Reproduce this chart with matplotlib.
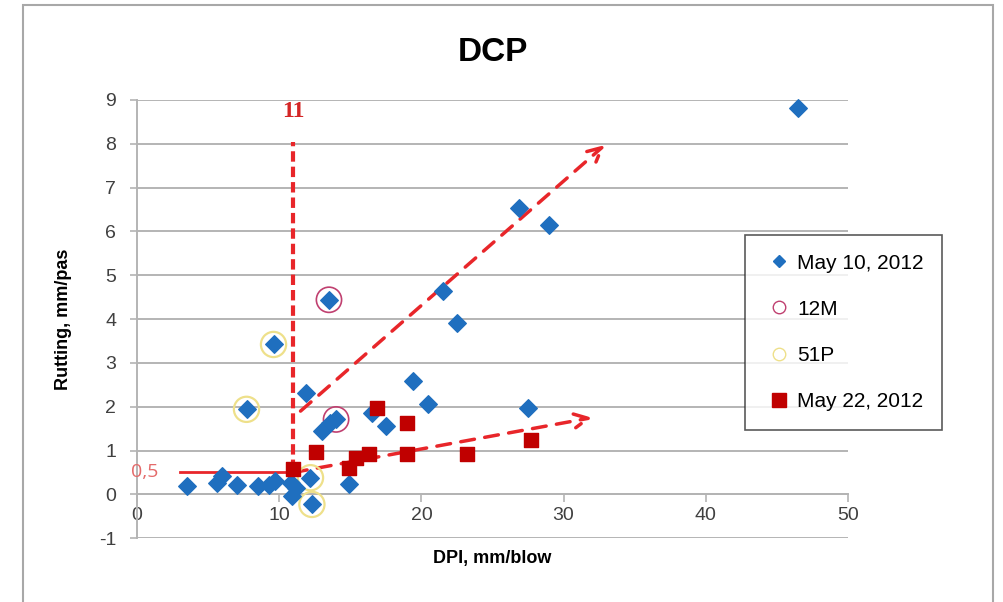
import matplotlib.pyplot as plt
import matplotlib.patches as mpatches
from matplotlib.lines import Line2D

# May 10, 2012 (DPI mm/blow, rutting mm/pas)
may10_x = [3.5, 5.6, 6.0, 7.0, 8.5, 9.3, 9.7, 10.8, 11.2, 10.9, 12.2, 12.3,
           9.6, 7.7, 13.5, 11.9, 13.0, 13.6, 14.0, 14.9, 16.5, 17.5, 19.4,
           20.5, 21.5, 22.5, 26.9, 29.0, 27.5, 46.5]
may10_y = [0.2, 0.25, 0.42, 0.22, 0.2, 0.22, 0.3, 0.25, 0.15, -0.04, 0.38, -0.23,
           3.42, 1.94, 4.44, 2.32, 1.44, 1.62, 1.71, 0.23, 1.85, 1.56, 2.58,
           2.07, 4.65, 3.9, 6.53, 6.15, 1.96, 8.81]

# May 22, 2012
may22_x = [11.0, 12.6, 14.9, 15.4, 16.3, 16.9, 19.0, 19.0, 23.2, 27.7]
may22_y = [0.59, 0.96, 0.61, 0.84, 0.91, 1.97, 1.63, 0.93, 0.93, 1.23]

# marked sections
m12_x = [13.5, 14.0]
m12_y = [4.44, 1.71]
p51_x = [9.6, 7.7, 12.3, 12.2]
p51_y = [3.42, 1.94, -0.23, 0.38]

blue = "#1F6FBF"
dred = "#C00000"
arrow_red = "#E8262A"
grid_c = "#B4B4B4"

plt.rcParams["font.family"] = ["Liberation Sans", "DejaVu Sans"]
plt.rcParams["axes.unicode_minus"] = False

fig = plt.figure(figsize=(10.04, 6.02), dpi=100)
ax = fig.add_axes([0.1365, 0.106, 0.708, 0.728])

# outer chart border
fig.patches.append(mpatches.Rectangle((0.0229, -0.02), 0.966, 1.0117, transform=fig.transFigure,
                                      fill=False, edgecolor="#A8A8A8", linewidth=1.5))

ax.set_xlim(0, 50)
ax.set_ylim(-1, 9)
ax.set_xticks(range(0, 51, 10))
ax.set_yticks(range(-1, 10))
ax.yaxis.grid(True, color=grid_c, linewidth=1.4)
ax.set_axisbelow(True)

for s in ["top", "right"]:
    ax.spines[s].set_visible(False)
ax.spines["bottom"].set_position(("data", 0))
ax.spines["bottom"].set_color(grid_c)
ax.spines["left"].set_color(grid_c)
ax.spines["bottom"].set_linewidth(1.4)
ax.spines["left"].set_linewidth(1.4)
ax.tick_params(axis="x", direction="out", length=6, color=grid_c, width=1.2,
               labelsize=14, labelcolor="#404040", pad=3)
ax.tick_params(axis="y", direction="out", length=5, color=grid_c, width=1.2,
               labelsize=14, labelcolor="#404040", pad=10)

# annotation lines
ax.plot([3.0, 11.0], [0.5, 0.5], color=arrow_red, linewidth=2, zorder=2)
ax.plot([11.0, 11.0], [0.55, 8.05], color=arrow_red, linewidth=3, dashes=(2.5, 1.2), zorder=2)
ax.annotate("", xy=(32.9, 7.97), xytext=(11.5, 1.9),
            arrowprops=dict(arrowstyle="->", color=arrow_red, lw=2.5, linestyle=(0, (4, 3)),
                            mutation_scale=25, shrinkA=0, shrinkB=0), zorder=2)
ax.annotate("", xy=(32.0, 1.75), xytext=(11.0, 0.5),
            arrowprops=dict(arrowstyle="->", color=arrow_red, lw=2.5, linestyle=(0, (4, 3)),
                            mutation_scale=25, shrinkA=0, shrinkB=0), zorder=2)

ax.text(11.0, 8.73, "11", color="#D42525", fontsize=17, fontweight="bold",
        family=["Liberation Serif", "DejaVu Serif"], ha="center", va="center")
ax.text(0.55, 0.5, "0,5", color="#E46A6A", fontsize=14, ha="center", va="center",
        family=["Open Sans", "DejaVu Sans"], clip_on=False)

# data
ax.scatter(may10_x, may10_y, marker="D", s=80, color=blue, zorder=4, clip_on=False)
ax.scatter(m12_x, m12_y, marker="o", s=330, facecolors="none", edgecolors="#C04070",
           linewidths=1.2, zorder=3)
ax.scatter(p51_x, p51_y, marker="o", s=330, facecolors="none", edgecolors="#EEE08A",
           linewidths=1.6, zorder=3, clip_on=False)
ax.scatter(may22_x, may22_y, marker="s", s=110, color=dred, zorder=5)

ax.set_title("DCP", fontsize=24, fontweight="bold", pad=28)
ax.set_xlabel("DPI, mm/blow", fontsize=13, fontweight="bold")
ax.set_ylabel("Rutting, mm/pas", fontsize=13, fontweight="bold", labelpad=19)
ax.xaxis.set_label_coords(0.5, -0.027)

handles = [
    Line2D([], [], marker="D", linestyle="none", color=blue, markersize=6),
    Line2D([], [], marker="o", linestyle="none", markerfacecolor="none",
           markeredgecolor="#C04070", markersize=9),
    Line2D([], [], marker="o", linestyle="none", markerfacecolor="none",
           markeredgecolor="#EEE08A", markersize=9),
    Line2D([], [], marker="s", linestyle="none", color=dred, markersize=10),
]
leg = ax.legend(handles, ["May 10, 2012", "12M", "51P", "May 22, 2012"],
                loc="upper left", bbox_to_anchor=(0.855, 0.692), fontsize=15,
                frameon=True, fancybox=False, edgecolor="#303030", handlelength=1.5,
                handletextpad=0.1, labelspacing=1.3, borderpad=0.9, borderaxespad=0)
leg.get_frame().set_linewidth(1.2)
leg.set_zorder(6)

fig.savefig("out.png", dpi=100)
